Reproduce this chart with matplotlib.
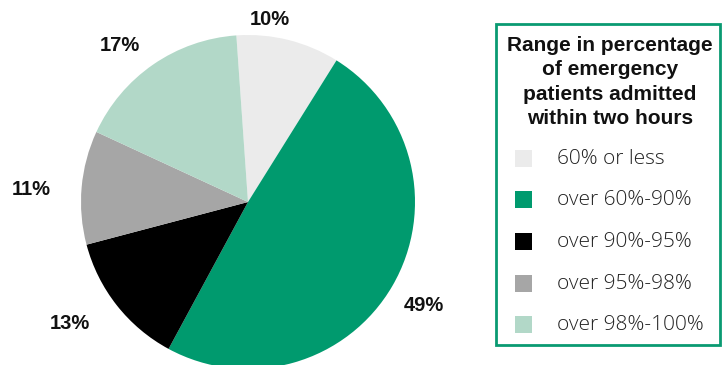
import matplotlib.pyplot as plt
from matplotlib.patches import Rectangle

# shares of trusts per range band, clockwise from the top
categories = ["60% or less", "over 60%-90%", "over 90%-95%", "over 95%-98%", "over 98%-100%"]
shares = [10, 49, 13, 11, 17]
colors = ["#ebebeb", "#009a6e", "#000000", "#a6a6a6", "#b2d8c8"]
legend_title = "Range in percentage\nof emergency\npatients admitted\nwithin two hours"

# nudges for the outside labels (axes units)
label_nudge = [(-0.16, -0.08), (0.01, -0.01), (-0.115, 0.02), (-0.095, -0.033), (-0.08, -0.06)]

plt.rcParams["font.family"] = ["Liberation Sans", "DejaVu Sans"]

W, H = 722, 365
fig = plt.figure(figsize=(W / 100, H / 100), dpi=100)

# -----------------------------------
# Pie
# -----------------------------------
cx, cy, r = 248, 202, 167
ax = fig.add_axes([(cx - r) / W, (H - cy - r) / H, 2 * r / W, 2 * r / H])
wedges, texts = ax.pie(
    shares,
    colors=colors,
    startangle=94,
    counterclock=False,
    labels=[f"{v}%" for v in shares],
    labeldistance=1.21,
    textprops=dict(fontsize=14.5, fontweight="bold", color="#111111"),
    wedgeprops=dict(linewidth=0),
)
for t, (dx, dy) in zip(texts, label_nudge):
    x, y = t.get_position()
    t.set_position((x + dx, y + dy))
    t.set_ha("center")
    t.set_va("center")
ax.set_xlim(-1, 1)
ax.set_ylim(-1, 1)
ax.set_aspect("equal")
ax.axis("off")

# -----------------------------------
# Legend box (pixel coordinates)
# -----------------------------------
lax = fig.add_axes([0, 0, 1, 1], zorder=-1)
lax.set_xlim(0, W)
lax.set_ylim(H, 0)
lax.axis("off")

lax.add_patch(Rectangle((496, 24), 224, 321, fill=False, edgecolor="#0a9a72", linewidth=2))
lax.text(610, 82, legend_title, ha="center", va="center", fontsize=15,
         fontweight="bold", linespacing=1.36, color="#111111")

row_y = [158, 199, 241, 283, 324]
for y, c, name in zip(row_y, colors, categories):
    lax.add_patch(Rectangle((515, y - 8.5), 17, 17, facecolor=c, edgecolor="none"))
    lax.text(557, y + 1, name, ha="left", va="center", fontsize=15,
             fontfamily=["Open Sans", "Liberation Sans"], fontweight="light", color="#222222")

fig.savefig("out.png", dpi=100)
